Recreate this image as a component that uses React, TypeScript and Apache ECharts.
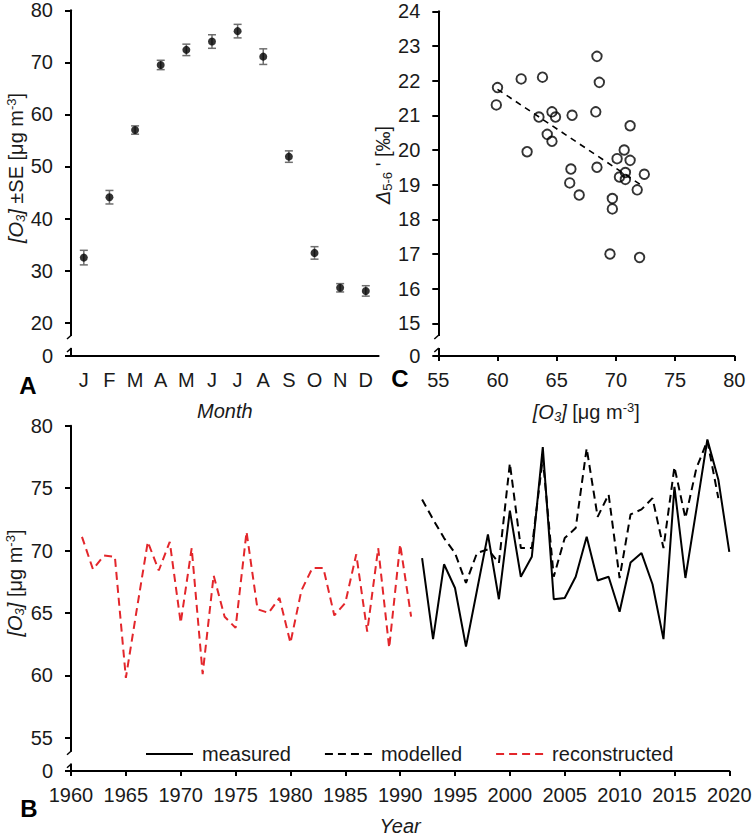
import React, { useEffect, useRef } from 'react';
import * as echarts from 'echarts';

const FF = '"Liberation Sans", Arial, Helvetica, sans-serif';
const TXT = '#1a1a1a';

// Panel A: monthly mean ozone
const months = ['J', 'F', 'M', 'A', 'M', 'J', 'J', 'A', 'S', 'O', 'N', 'D'];
const monthlyMean = [32.5, 44.1, 57.0, 69.5, 72.4, 74.0, 76.0, 71.1, 51.9, 33.4, 26.7, 26.1];
const monthlySE = [1.4, 1.3, 0.8, 0.9, 1.1, 1.3, 1.3, 1.5, 1.1, 1.2, 0.8, 1.0];

// Panel C: scatter
const scatterO3 = [60.0, 59.9, 62.0, 63.8, 68.4, 68.6, 63.5, 64.6, 64.9, 66.3, 68.3, 64.2, 64.6, 62.5, 71.2, 70.7,
  70.1, 71.2, 66.2, 68.4, 70.8, 70.3, 70.8, 72.4, 66.1, 66.9, 71.8, 69.7, 69.7, 69.5, 72.0];
const scatterDelta = [21.8, 21.3, 22.05, 22.1, 22.7, 21.95, 20.95, 21.1, 20.95, 21.0, 21.1, 20.45, 20.25, 19.95, 20.7, 20.0,
  19.75, 19.7, 19.45, 19.5, 19.35, 19.22, 19.15, 19.3, 19.05, 18.7, 18.85, 18.6, 18.3, 17.0, 16.9];
const trendO3 = [60.0, 72.3];
const trendDelta = [21.75, 18.95];

// Panel B: time series
const reconYears = [1961, 1962, 1963, 1964, 1965, 1966, 1967, 1968, 1969, 1970, 1971, 1972, 1973, 1974, 1975, 1976,
  1977, 1978, 1979, 1980, 1981, 1982, 1983, 1984, 1985, 1986, 1987, 1988, 1989, 1990, 1991];
const reconValues = [71.1, 68.5, 69.6, 69.5, 59.8, 65.3, 70.7, 68.4, 70.7, 64.2, 70.2, 60.1, 68.0, 64.7, 63.8, 71.5,
  65.3, 65.0, 66.2, 62.6, 66.8, 68.6, 68.6, 64.8, 65.8, 69.7, 63.5, 70.2, 62.2, 70.5, 64.7];
const measYears = [1992, 1993, 1994, 1995, 1996, 1997, 1998, 1999, 2000, 2001, 2002, 2003, 2004, 2005, 2006, 2007,
  2008, 2009, 2010, 2011, 2012, 2013, 2014, 2015, 2016, 2017, 2018, 2019, 2020];
const measuredValues = [69.4, 62.9, 68.9, 67.0, 62.3, 66.8, 71.3, 66.1, 73.2, 67.9, 69.5, 78.3, 66.1, 66.2, 67.9, 71.1,
  67.6, 67.9, 65.1, 69.05, 69.8, 67.3, 62.9, 75.1, 67.8, 73.3, 78.9, 75.7, 69.9];
const modelYears = [1992, 1993, 1994, 1995, 1996, 1997, 1998, 1999, 2000, 2001, 2002, 2003, 2004, 2005, 2006, 2007,
  2008, 2009, 2010, 2011, 2012, 2013, 2014, 2015, 2016, 2017, 2018, 2019];
const modelledValues = [74.1, 72.5, 71.0, 69.8, 67.4, 69.8, 70.1, 69.0, 77.0, 70.2, 70.2, 77.4, 67.9, 71.0, 71.8, 78.2,
  72.7, 74.5, 67.8, 72.9, 73.3, 74.2, 70.2, 76.7, 72.6, 76.6, 78.8, 74.2];

const legendNames = ['measured', 'modelled', 'reconstructed'];

const rich: any = {
  i: { fontStyle: 'italic', fontSize: 20, fontFamily: FF, color: TXT, fill: TXT },
  isub: { fontStyle: 'italic', fontSize: 13, fontFamily: FF, color: TXT, fill: TXT, padding: [9, 0, 0, 0] },
  sub: { fontSize: 13, fontFamily: FF, color: TXT, fill: TXT, padding: [9, 0, 0, 0] },
  sup: { fontSize: 13, fontFamily: FF, color: TXT, fill: TXT, padding: [0, 0, 9, 0] },
  n: { fontSize: 20, fontFamily: FF, color: TXT, fill: TXT },
};

const axisLine = { show: true, lineStyle: { color: '#000', width: 2 } };
const tick = (len: number) => ({ show: true, length: len, lineStyle: { color: '#000', width: 2 } });
const label = { color: TXT, fontSize: 20, fontFamily: FF };

const breakMarks = (ax: number, y0: number) => [
  { type: 'rect', z: 100, shape: { x: ax - 3, y: y0 - 20, width: 6, height: 12 }, style: { fill: '#fff' } },
  { type: 'line', z: 101, shape: { x1: ax + 0.5, y1: y0 - 21, x2: ax - 4, y2: y0 - 17 }, style: { stroke: '#000', lineWidth: 1.5 } },
  { type: 'line', z: 101, shape: { x1: ax - 4, y1: y0 - 4, x2: ax + 0.5, y2: y0 - 8 }, style: { stroke: '#000', lineWidth: 1.5 } },
];

const yName = (x: number, y: number, text: string) => ({
  type: 'text', x, y, rotation: Math.PI / 2, z: 100,
  style: { text, rich, fontSize: 20, fontFamily: FF, fill: TXT, align: 'center', verticalAlign: 'middle' },
});

const panelLetter = (x: number, y: number, text: string) => ({
  type: 'text', x, y, z: 100,
  style: { text, fontSize: 24, fontWeight: 'bold', fontFamily: FF, fill: '#000', align: 'center', verticalAlign: 'middle' },
});

function buildOption(): any {
  return {
    animation: false,
    backgroundColor: '#fff',
    grid: [
      { left: 71, top: 10.3, width: 307.6, height: 345.7 },
      { left: 438.3, top: 11.3, width: 296, height: 344.7 },
      { left: 71, top: 425.8, width: 658.3, height: 345.9 },
    ],
    xAxis: [
      {
        gridIndex: 0, type: 'category', data: months, boundaryGap: true,
        axisLine, axisTick: { show: false },
        axisLabel: { ...label, interval: 0, margin: 14 },
        name: 'Month', nameLocation: 'middle', nameGap: 45,
        nameTextStyle: { fontSize: 20, fontStyle: 'italic', fontFamily: FF, color: TXT },
      },
      {
        gridIndex: 1, type: 'value', min: 55, max: 80, interval: 5,
        axisLine, axisTick: tick(5), splitLine: { show: false },
        axisLabel: { ...label, margin: 14 },
        name: '{i|[O}{isub|3}{i|]} [μg m{sup|-3}]', nameLocation: 'middle', nameGap: 45,
        nameTextStyle: { fontSize: 20, fontFamily: FF, color: TXT, rich },
      },
      {
        gridIndex: 2, type: 'value', min: 1960, max: 2020, interval: 5,
        axisLine, axisTick: tick(5), splitLine: { show: false },
        axisLabel: { ...label, margin: 14, formatter: (v: number) => String(v) },
        name: 'Year', nameLocation: 'middle', nameGap: 45,
        nameTextStyle: { fontSize: 20, fontStyle: 'italic', fontFamily: FF, color: TXT },
      },
    ],
    yAxis: [
      {
        gridIndex: 0, type: 'value', min: 13.6, max: 80, minInterval: 10, maxInterval: 10,
        axisLine, axisTick: tick(6), splitLine: { show: false },
        axisLabel: { ...label, margin: 18, formatter: (v: number) => (v < 20 ? '0' : String(v)) },
      },
      {
        gridIndex: 1, type: 'value', min: 14.057, max: 24, minInterval: 1, maxInterval: 1,
        axisLine, axisTick: tick(6), splitLine: { show: false },
        axisLabel: { ...label, margin: 18, formatter: (v: number) => (v < 15 ? '0' : String(v)) },
      },
      {
        gridIndex: 2, type: 'value', min: 52.33, max: 80, minInterval: 5, maxInterval: 5,
        axisLine, axisTick: tick(6), splitLine: { show: false },
        axisLabel: { ...label, margin: 18, formatter: (v: number) => (v < 55 ? '0' : String(v)) },
      },
    ],
    legend: {
      data: legendNames, left: 140, top: 739, itemGap: 33, itemWidth: 47, itemHeight: 14,
      selectedMode: false,
      itemStyle: { opacity: 0 },
      textStyle: { fontSize: 20, fontFamily: FF, color: TXT, padding: [0, 0, 0, 4] },
    },
    series: [
      {
        type: 'custom', xAxisIndex: 0, yAxisIndex: 0, z: 2,
        data: months.map((_, i) => [i, monthlyMean[i] - monthlySE[i], monthlyMean[i] + monthlySE[i]]),
        encode: { x: 0, y: [1, 2] },
        renderItem: (params: any, api: any) => {
          const idx = api.value(0);
          const lo = api.coord([idx, api.value(1)]);
          const hi = api.coord([idx, api.value(2)]);
          const hw = 4;
          const st = { stroke: '#6e6e6e', lineWidth: 1.5 };
          return {
            type: 'group',
            children: [
              { type: 'line', shape: { x1: lo[0], y1: lo[1], x2: hi[0], y2: hi[1] }, style: st },
              { type: 'line', shape: { x1: lo[0] - hw, y1: lo[1], x2: lo[0] + hw, y2: lo[1] }, style: st },
              { type: 'line', shape: { x1: hi[0] - hw, y1: hi[1], x2: hi[0] + hw, y2: hi[1] }, style: st },
            ],
          };
        },
      },
      {
        type: 'scatter', xAxisIndex: 0, yAxisIndex: 0, z: 3,
        data: monthlyMean, symbol: 'circle', symbolSize: 8,
        itemStyle: { color: '#000' },
      },
      {
        type: 'scatter', xAxisIndex: 1, yAxisIndex: 1, z: 3,
        data: scatterO3.map((x, i) => [x, scatterDelta[i]]),
        symbol: 'circle', symbolSize: 9.5,
        itemStyle: { color: 'rgba(255,255,255,0)', borderColor: '#000', borderWidth: 1.9 },
      },
      {
        type: 'line', xAxisIndex: 1, yAxisIndex: 1, z: 2,
        data: trendO3.map((x, i) => [x, trendDelta[i]]),
        symbol: 'none', lineStyle: { color: '#000', width: 1.6, type: [6, 5] },
      },
      {
        name: 'measured', type: 'line', xAxisIndex: 2, yAxisIndex: 2, z: 3,
        data: measYears.map((y, i) => [y, measuredValues[i]]),
        symbol: 'none', lineStyle: { color: '#000', width: 2 }, itemStyle: { color: '#000' },
      },
      {
        name: 'modelled', type: 'line', xAxisIndex: 2, yAxisIndex: 2, z: 2,
        data: modelYears.map((y, i) => [y, modelledValues[i]]),
        symbol: 'none', lineStyle: { color: '#000', width: 2, type: [8, 5] }, itemStyle: { color: '#000' },
      },
      {
        name: 'reconstructed', type: 'line', xAxisIndex: 2, yAxisIndex: 2, z: 2,
        data: reconYears.map((y, i) => [y, reconValues[i]]),
        symbol: 'none', lineStyle: { color: '#E3262B', width: 2, type: [8, 5] }, itemStyle: { color: '#E3262B' },
      },
    ],
    graphic: [
      ...breakMarks(71, 356),
      ...breakMarks(438.3, 356),
      ...breakMarks(71, 771.7),
      yName(16, 168, '{i|[O}{isub|3}{i|]} ±SE [μg m{sup|-3}]'),
      yName(15, 583, '{i|[O}{isub|3}{i|]} [μg m{sup|-3}]'),
      yName(383, 165, '{i|Δ}{sub|5-6}{n| \'} [‰]'),
      panelLetter(28, 385, 'A'),
      panelLetter(400, 378, 'C'),
      panelLetter(29, 808, 'B'),
    ],
  };
}

export default function App() {
  const ref = useRef<HTMLDivElement>(null);
  useEffect(() => {
    const chart = echarts.init(ref.current!, null, { renderer: 'svg' });
    chart.setOption(buildOption());
    return () => chart.dispose();
  }, []);
  return (
    <div
      ref={ref}
      style={{ position: 'absolute', left: 0, top: 0, width: 755, height: 837, background: '#fff' }}
    />
  );
}
